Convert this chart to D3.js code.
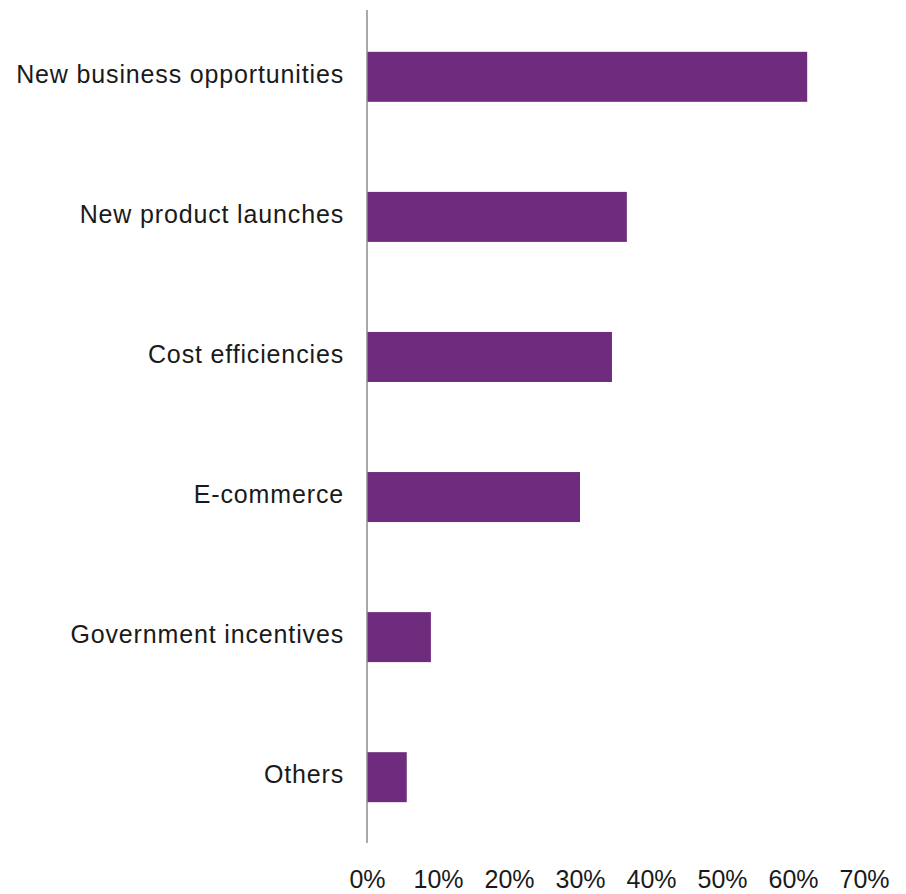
<!DOCTYPE html>
<html>
<head>
<meta charset="utf-8">
<script src="https://cdn.jsdelivr.net/npm/d3@7"></script>
<style>
  html, body { margin: 0; padding: 0; background: #fff; }
  svg text { font-family: "Liberation Sans", Arial, sans-serif; }
</style>
</head>
<body>
<svg id="chart" width="906" height="894"></svg>
<script>
const categories = ["New business opportunities", "New product launches", "Cost efficiencies", "E-commerce", "Government incentives", "Others"];
const values = [0.62, 0.366, 0.345, 0.30, 0.09, 0.056];
const tickValues = [0, 0.1, 0.2, 0.3, 0.4, 0.5, 0.6, 0.7];
const tickLabels = ["0%", "10%", "20%", "30%", "40%", "50%", "60%", "70%"];

const svg = d3.select("#chart");
const x = d3.scaleLinear().domain([0, 0.7]).range([367, 864]);
const y = d3.scaleBand().domain(categories).range([7, 847]).paddingInner(0.643).paddingOuter(0.32);

// bars
svg.append("g").selectAll("rect")
  .data(categories.map((c, i) => ({c, v: values[i]})))
  .join("rect")
  .attr("x", x(0))
  .attr("y", d => y(d.c))
  .attr("width", d => x(d.v) - x(0))
  .attr("height", y.bandwidth())
  .attr("fill", "#6f2c7f");

// vertical axis line
svg.append("line")
  .attr("x1", x(0)).attr("x2", x(0))
  .attr("y1", 10).attr("y2", 843)
  .attr("stroke", "#8c8c8c").attr("stroke-width", 1.5);

// category labels
const yAxis = d3.axisLeft(y).tickSize(0).tickPadding(23);
const gy = svg.append("g").attr("transform", `translate(${x(0)},0)`).call(yAxis);
gy.select(".domain").remove();
gy.selectAll("text")
  .attr("font-size", "25px")
  .attr("fill", "#1a1a1a")
  .attr("dy", "0.24em")
  .style("letter-spacing", "0.85px")
  .style("font-family", "'Liberation Sans', Arial, sans-serif");

// x tick labels
const xAxis = d3.axisBottom(x).tickValues(tickValues).tickFormat((d, i) => tickLabels[i]).tickSize(0).tickPadding(0);
const gx = svg.append("g").attr("transform", "translate(0,870)").call(xAxis);
gx.select(".domain").remove();
gx.selectAll("text")
  .attr("font-size", "25px")
  .attr("fill", "#1a1a1a")
  .attr("dy", "0.71em")
  .style("font-family", "'Liberation Sans', Arial, sans-serif");
</script>
</body>
</html>
